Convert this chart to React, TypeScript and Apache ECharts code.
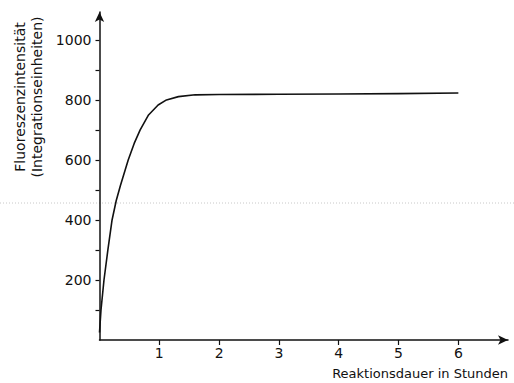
import React, { useEffect, useRef } from "react";
import * as echarts from "echarts";

const hours = [0, 0.025, 0.075, 0.14, 0.21, 0.28, 0.35, 0.48, 0.58, 0.68, 0.82, 0.98, 1.12, 1.32, 1.6, 2, 3, 4, 5, 6];
const intensity = [25, 100, 200, 300, 400, 465, 515, 600, 655, 700, 750, 783, 800, 811, 817, 818, 819, 820, 821, 823];
const yTicks = [100, 200, 300, 400, 500, 600, 700, 800, 900, 1000];
const yLabels = [200, 400, 600, 800, 1000];
const xTicks = [1, 2, 3, 4, 5, 6];
const xTitle = "Reaktionsdauer in Stunden";
const yTitle1 = "Fluoreszenzintensität";
const yTitle2 = "(Integrationseinheiten)";

const FONT = "DejaVu Sans";

export default function App() {
  const ref = useRef<HTMLDivElement>(null);
  useEffect(() => {
    document.body.style.margin = "0";
    const chart = echarts.init(ref.current!, null, { renderer: "svg" });
    const data = hours.map((h, i) => [h, intensity[i]]);
    chart.setOption({
      animation: false,
      backgroundColor: "#ffffff",
      grid: { left: 99.5, top: 12, width: 408.5, height: 328 },
      xAxis: {
        type: "value",
        min: 0,
        max: 6.83,
        splitLine: { show: false },
        axisLine: {
          show: true,
          lineStyle: { color: "#111", width: 1.5 },
          symbol: ["none", "arrow"],
          symbolSize: [7, 10],
        },
        axisTick: { show: true, customValues: xTicks, length: 5, lineStyle: { color: "#111", width: 1.2 } },
        axisLabel: {
          customValues: xTicks,
          color: "#111",
          fontFamily: FONT,
          fontSize: 14,
          margin: 6,
          formatter: (v: number) => String(v),
        },
      },
      yAxis: {
        type: "value",
        min: 0,
        max: 1093,
        splitLine: { show: false },
        axisLine: {
          show: true,
          lineStyle: { color: "#111", width: 1.5 },
          symbol: ["none", "arrow"],
          symbolSize: [7, 10],
        },
        axisTick: { show: true, customValues: yTicks, length: 4, lineStyle: { color: "#111", width: 1.2 } },
        axisLabel: {
          customValues: yLabels,
          color: "#111",
          fontFamily: FONT,
          fontSize: 14,
          margin: 8,
          formatter: (v: number) => String(v),
        },
      },
      graphic: [
        {
          type: "line",
          silent: true,
          shape: { x1: 0, y1: 203, x2: 514, y2: 203 },
          style: { stroke: "#c8c8c8", lineWidth: 1, lineDash: [1, 2] },
        },
        {
          type: "text",
          x: 20,
          y: 97,
          rotation: Math.PI / 2,
          style: { text: yTitle1, fill: "#111", font: `14px "${FONT}"`, align: "center", verticalAlign: "middle" },
        },
        {
          type: "text",
          x: 37,
          y: 97,
          rotation: Math.PI / 2,
          style: { text: yTitle2, fill: "#111", font: `14px "${FONT}"`, align: "center", verticalAlign: "middle" },
        },
        {
          type: "text",
          x: 508,
          y: 373,
          style: { text: xTitle, fill: "#111", font: `13px "${FONT}"`, align: "right", verticalAlign: "middle" },
        },
      ],
      series: [
        {
          type: "line",
          data,
          smooth: false,
          showSymbol: false,
          lineStyle: { color: "#111", width: 1.6, join: "round" },
        },
      ],
    });
    return () => chart.dispose();
  }, []);
  return <div ref={ref} style={{ position: "fixed", left: 0, top: 0, width: 514, height: 383 }} />;
}
